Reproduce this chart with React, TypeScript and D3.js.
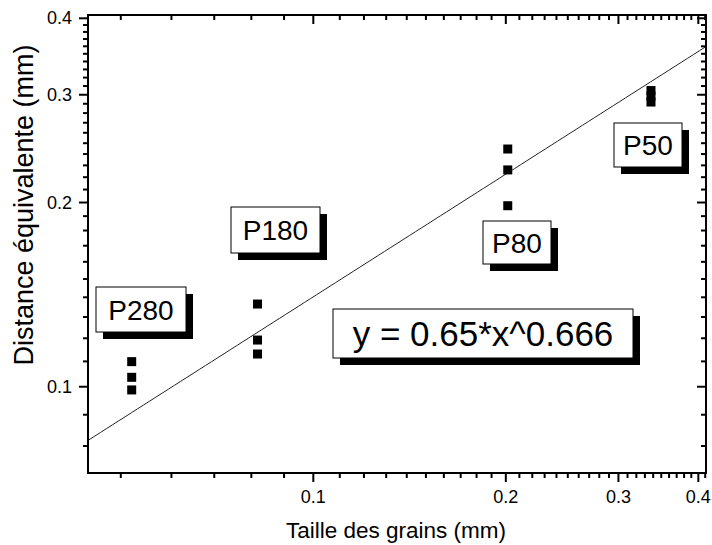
import React from "react";
import * as d3 from "d3";

// ---- data ----
const groupNames = ["P280", "P180", "P80", "P50"];
const grainSize = [0.052, 0.0818, 0.2014, 0.3373]; // mm
const distP280 = [0.1099, 0.1036, 0.0988];
const distP180 = [0.1365, 0.1192, 0.1131];
const distP80 = [0.2446, 0.2261, 0.1976];
const distP50 = [0.3048, 0.2985, 0.2919];
const fitA = 0.65;
const fitB = 0.666;
const equationText = "y = 0.65*x^0.666";
const xMajorTicks = [0.1, 0.2, 0.3, 0.4];
const yMajorTicks = [0.1, 0.2, 0.3, 0.4];
const xTitle = "Taille des grains (mm)";
const yTitle = "Distance équivalente (mm)";

// ---- layout ----
const W = 712;
const H = 545;
const L = 88, R = 706, T = 15, B = 473;
const FONT = "'Liberation Sans', Arial, Helvetica, sans-serif";

const boxes = [
  { text: groupNames[0], x: 96, y: 287, w: 90, h: 45, fs: 28 },
  { text: groupNames[1], x: 231, y: 207, w: 89, h: 46, fs: 28 },
  { text: groupNames[2], x: 483, y: 221, w: 68, h: 43, fs: 28 },
  { text: groupNames[3], x: 614, y: 123, w: 68, h: 44, fs: 28 },
  { text: equationText, x: 333, y: 309, w: 300, h: 49, fs: 35 },
];

export default function App() {
  const x = d3.scaleLog().domain([0.04443, 0.4112]).range([L, R]);
  const y = d3.scaleLog().domain([0.07228, 0.405]).range([B, T]);

  const xMinor: number[] = [];
  for (let i = 5; i <= 41; i++) {
    const v = i / 100;
    if (v >= 0.04443 && v <= 0.4112 && !xMajorTicks.some((m) => Math.abs(m - v) < 1e-9)) xMinor.push(v);
  }
  const yMinor: number[] = [];
  for (let i = 7; i <= 40; i++) {
    const v = i / 100;
    if (v >= 0.07228 && v <= 0.405 && !yMajorTicks.some((m) => Math.abs(m - v) < 1e-9)) yMinor.push(v);
  }

  const series = [distP280, distP180, distP80, distP50];
  const points: { gx: number; gy: number }[] = [];
  series.forEach((arr, i) => arr.forEach((v) => points.push({ gx: grainSize[i], gy: v })));

  const fitXs = d3.range(0, 101).map((i) => 0.04443 * Math.pow(0.4112 / 0.04443, i / 100));
  const line = d3
    .line<number>()
    .x((d) => x(d))
    .y((d) => y(fitA * Math.pow(d, fitB)));

  const sq = 9;
  const majLen = 9;
  const minLen = 5;

  return (
    <svg
      width={W}
      height={H}
      style={{ position: "absolute", left: 0, top: 0, background: "#fff" }}
      fontFamily={FONT}
    >
      <rect x={0} y={0} width={W} height={H} fill="#fff" />
      <defs>
        <clipPath id="plotclip">
          <rect x={L} y={T} width={R - L} height={B - T} />
        </clipPath>
      </defs>

      {/* fit line */}
      <path d={line(fitXs) || ""} fill="none" stroke="#222" strokeWidth={1} clipPath="url(#plotclip)" />

      {/* points */}
      {points.map((p, i) => (
        <rect key={i} x={x(p.gx) - sq / 2} y={y(p.gy) - sq / 2} width={sq} height={sq} fill="#000" />
      ))}

      {/* frame */}
      <rect x={L} y={T} width={R - L} height={B - T} fill="none" stroke="#000" strokeWidth={2} />

      {/* bottom ticks (outward) + top mirror (inward) */}
      {xMajorTicks.map((v) => (
        <g key={"xM" + v}>
          <line x1={x(v)} x2={x(v)} y1={B} y2={B + majLen} stroke="#000" strokeWidth={2} />
          <line x1={x(v)} x2={x(v)} y1={T} y2={T + majLen} stroke="#000" strokeWidth={2} />
          <text x={x(v)} y={503} textAnchor="middle" fontSize={18}>
            {v}
          </text>
        </g>
      ))}
      {xMinor.map((v) => (
        <g key={"xm" + v}>
          <line x1={x(v)} x2={x(v)} y1={B} y2={B + minLen} stroke="#000" strokeWidth={2} />
          <line x1={x(v)} x2={x(v)} y1={T} y2={T + minLen} stroke="#000" strokeWidth={2} />
        </g>
      ))}

      {/* left ticks (outward) + right mirror (inward) */}
      {yMajorTicks.map((v) => (
        <g key={"yM" + v}>
          <line x1={L - majLen} x2={L} y1={y(v)} y2={y(v)} stroke="#000" strokeWidth={2} />
          <line x1={R - majLen} x2={R} y1={y(v)} y2={y(v)} stroke="#000" strokeWidth={2} />
          <text x={72} y={y(v) + 6} textAnchor="end" fontSize={18}>
            {v}
          </text>
        </g>
      ))}
      {yMinor.map((v) => (
        <g key={"ym" + v}>
          <line x1={L - minLen} x2={L} y1={y(v)} y2={y(v)} stroke="#000" strokeWidth={2} />
          <line x1={R - minLen} x2={R} y1={y(v)} y2={y(v)} stroke="#000" strokeWidth={2} />
        </g>
      ))}

      {/* axis titles */}
      <text x={396} y={538} textAnchor="middle" fontSize={22.5}>
        {xTitle}
      </text>
      <text transform={`translate(33,205) rotate(-90)`} textAnchor="middle" fontSize={27}>
        {yTitle}
      </text>

      {/* annotation boxes with shadow */}
      {boxes.map((b, i) => (
        <g key={"b" + i}>
          <rect x={b.x + 7} y={b.y + 7} width={b.w} height={b.h} fill="#000" />
          <rect x={b.x} y={b.y} width={b.w} height={b.h} fill="#fff" stroke="#000" strokeWidth={1} />
          <text x={b.x + b.w / 2} y={b.y + b.h / 2 + b.fs * 0.36} textAnchor="middle" fontSize={b.fs}>
            {b.text}
          </text>
        </g>
      ))}
    </svg>
  );
}
